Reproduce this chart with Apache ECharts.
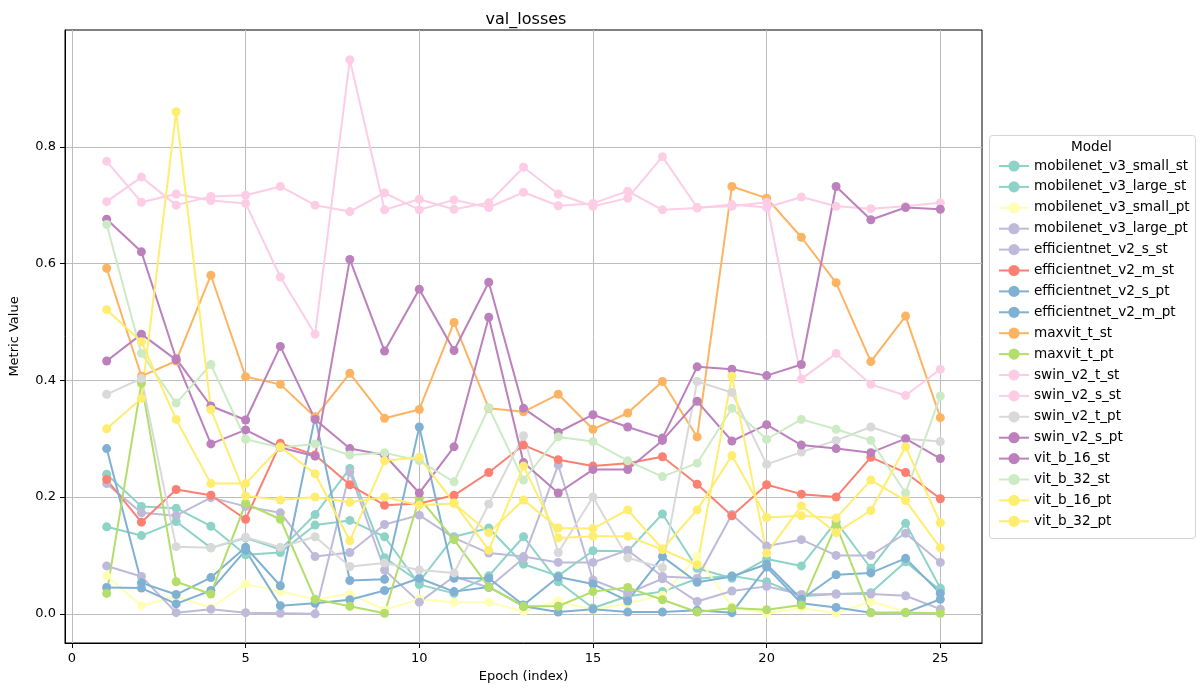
<!DOCTYPE html>
<html>
<head>
<meta charset="utf-8">
<script src="https://cdn.jsdelivr.net/npm/echarts@6/dist/echarts.min.js"></script>
<style>
html,body{margin:0;padding:0;background:#fff;}
#chart{width:1202px;height:693px;}
</style>
</head>
<body>
<div id="chart"></div>
<script>
const epochs = [1,2,3,4,5,6,7,8,9,10,11,12,13,14,15,16,17,18,19,20,21,22,23,24,25];
const xTicks = [0,5,10,15,20,25];
const yTicks = [0,0.2,0.4,0.6,0.8];

const mobilenet_v3_small_st = [0.239,0.184,0.181,0.150,0.101,0.105,0.152,0.160,0.132,0.050,0.035,0.065,0.132,0.055,0.010,0.030,0.038,0.060,0.065,0.055,0.030,0.034,0.036,0.089,0.040];
const mobilenet_v3_large_st = [0.149,0.134,0.158,0.113,0.130,0.110,0.170,0.249,0.096,0.055,0.132,0.147,0.085,0.065,0.108,0.107,0.171,0.078,0.061,0.094,0.082,0.158,0.078,0.155,0.044];
const mobilenet_v3_small_pt = [0.065,0.014,0.030,0.010,0.051,0.038,0.025,0.034,0.007,0.025,0.020,0.020,0.004,0.022,0.007,0.018,0.032,0.098,0.012,0.001,0.010,0.001,0.021,0.004,0.001];
const mobilenet_v3_large_pt = [0.082,0.064,0.002,0.008,0.002,0.001,0.000,0.243,0.075,0.020,0.064,0.045,0.095,0.255,0.058,0.035,0.060,0.021,0.039,0.047,0.033,0.034,0.034,0.031,0.008];
const efficientnet_v2_s_st = [0.223,0.173,0.168,0.199,0.184,0.173,0.098,0.105,0.153,0.169,0.130,0.104,0.098,0.088,0.088,0.109,0.064,0.061,0.170,0.116,0.127,0.100,0.100,0.138,0.088];
const efficientnet_v2_m_st = [0.230,0.157,0.213,0.203,0.162,0.292,0.272,0.221,0.186,0.189,0.203,0.242,0.289,0.264,0.253,0.258,0.269,0.222,0.168,0.221,0.205,0.200,0.268,0.242,0.197];
const efficientnet_v2_s_pt = [0.283,0.053,0.033,0.062,0.114,0.048,0.337,0.057,0.059,0.320,0.061,0.061,0.015,0.063,0.051,0.022,0.098,0.054,0.064,0.085,0.025,0.067,0.070,0.095,0.035];
const efficientnet_v2_m_pt = [0.045,0.044,0.017,0.040,0.109,0.014,0.018,0.024,0.040,0.061,0.038,0.046,0.013,0.003,0.008,0.003,0.003,0.006,0.002,0.080,0.018,0.011,0.002,0.002,0.025];
const maxvit_t_st = [0.592,0.407,0.433,0.580,0.406,0.393,0.337,0.412,0.335,0.350,0.499,0.352,0.346,0.376,0.316,0.344,0.398,0.303,0.732,0.712,0.645,0.567,0.432,0.510,0.336];
const maxvit_t_pt = [0.035,0.395,0.055,0.034,0.189,0.162,0.025,0.013,0.001,0.198,0.127,0.046,0.013,0.013,0.038,0.045,0.024,0.003,0.010,0.007,0.015,0.152,0.002,0.002,0.001];
const swin_v2_t_st = [0.775,0.705,0.719,0.708,0.703,0.577,0.479,0.949,0.692,0.710,0.693,0.704,0.765,0.719,0.698,0.712,0.783,0.696,0.698,0.705,0.402,0.446,0.393,0.374,0.419];
const swin_v2_s_st = [0.706,0.748,0.700,0.715,0.717,0.732,0.700,0.689,0.721,0.692,0.709,0.696,0.722,0.699,0.703,0.724,0.692,0.695,0.701,0.696,0.714,0.698,0.694,0.698,0.704];
const swin_v2_t_pt = [0.376,0.403,0.115,0.113,0.131,0.114,0.132,0.081,0.087,0.075,0.070,0.188,0.305,0.105,0.200,0.096,0.079,0.398,0.379,0.256,0.277,0.297,0.320,0.300,0.295];
const swin_v2_s_pt = [0.676,0.620,0.437,0.356,0.332,0.458,0.333,0.283,0.272,0.207,0.286,0.508,0.259,0.207,0.247,0.247,0.297,0.364,0.296,0.324,0.289,0.283,0.276,0.300,0.266];
const vit_b_16_st = [0.433,0.479,0.435,0.291,0.315,0.285,0.270,0.607,0.450,0.556,0.451,0.568,0.352,0.311,0.341,0.320,0.301,0.423,0.419,0.408,0.427,0.732,0.675,0.696,0.693];
const vit_b_32_st = [0.667,0.446,0.361,0.427,0.299,0.285,0.291,0.272,0.276,0.262,0.226,0.353,0.229,0.303,0.295,0.262,0.235,0.258,0.352,0.299,0.333,0.316,0.297,0.207,0.373];
const vit_b_16_pt = [0.521,0.466,0.333,0.223,0.223,0.286,0.240,0.125,0.262,0.268,0.190,0.109,0.253,0.130,0.133,0.133,0.110,0.084,0.407,0.104,0.185,0.139,0.177,0.286,0.156];
const vit_b_32_pt = [0.317,0.369,0.860,0.350,0.202,0.195,0.200,0.191,0.200,0.186,0.189,0.139,0.195,0.147,0.146,0.178,0.111,0.178,0.271,0.165,0.168,0.164,0.229,0.194,0.113];

const seriesNames = ['mobilenet_v3_small_st','mobilenet_v3_large_st','mobilenet_v3_small_pt','mobilenet_v3_large_pt','efficientnet_v2_s_st','efficientnet_v2_m_st','efficientnet_v2_s_pt','efficientnet_v2_m_pt','maxvit_t_st','maxvit_t_pt','swin_v2_t_st','swin_v2_s_st','swin_v2_t_pt','swin_v2_s_pt','vit_b_16_st','vit_b_32_st','vit_b_16_pt','vit_b_32_pt'];
const seriesValues = [mobilenet_v3_small_st,mobilenet_v3_large_st,mobilenet_v3_small_pt,mobilenet_v3_large_pt,efficientnet_v2_s_st,efficientnet_v2_m_st,efficientnet_v2_s_pt,efficientnet_v2_m_pt,maxvit_t_st,maxvit_t_pt,swin_v2_t_st,swin_v2_s_st,swin_v2_t_pt,swin_v2_s_pt,vit_b_16_st,vit_b_32_st,vit_b_16_pt,vit_b_32_pt];
const seriesColors = ['#8dd3c7','#8dd3c7','#ffffb3','#bebada','#bebada','#fb8072','#80b1d3','#80b1d3','#fdb462','#b3de69','#fccde5','#fccde5','#d9d9d9','#bc80bd','#bc80bd','#ccebc5','#ffed6f','#ffed6f'];

const FONT = 'DejaVu Sans';
const chart = echarts.init(document.getElementById('chart'), null, {renderer:'canvas'});

const series = seriesNames.map((name,i)=>({
  name: name,
  type: 'line',
  data: epochs.map((e,j)=>[e, seriesValues[i][j]]),
  symbol: 'circle',
  symbolSize: 9,
  showSymbol: true,
  lineStyle: {width: 2, color: seriesColors[i]},
  itemStyle: {color: seriesColors[i], borderWidth: 0},
  emphasis: {disabled: true},
  animation: false
}));

chart.setOption({
  animation: false,
  backgroundColor: '#fff',
  textStyle: {fontFamily: FONT},
  title: {
    text: 'val_losses',
    left: 521, top: 7, textAlign: 'center',
    textStyle: {fontFamily: FONT, fontSize: 16, fontWeight: 'normal', color: '#000'}
  },
  grid: {left: 61, right: 220, top: 30, bottom: 50, show: true, borderColor: '#000', borderWidth: 1, backgroundColor: 'transparent'},
  xAxis: {
    type: 'value', min: -0.2, max: 26.2,
    name: 'Epoch (index)', nameLocation: 'middle', nameGap: 27,
    nameTextStyle: {fontFamily: FONT, fontSize: 13, color: '#000'},
    axisLine: {show: true, onZero: false, lineStyle: {color: '#000', width: 1}},
    axisTick: {show: true, inside: false, length: 5, customValues: xTicks, lineStyle: {color: '#000'}},
    axisLabel: {customValues: xTicks, margin: 9, fontFamily: FONT, fontSize: 13, color: '#000', formatter: v => String(v)},
    splitLine: {show: true, lineStyle: {color: '#bdbdbd', width: 1}}
  },
  yAxis: {
    type: 'value', min: -0.05, max: 1.0,
    name: 'Metric Value', nameLocation: 'middle', nameGap: 44,
    nameTextStyle: {fontFamily: FONT, fontSize: 13, color: '#000'},
    axisLine: {show: true, onZero: false, lineStyle: {color: '#000', width: 1}},
    axisTick: {show: true, inside: false, length: 5, customValues: yTicks, lineStyle: {color: '#000'}},
    axisLabel: {customValues: yTicks, margin: 9, fontFamily: FONT, fontSize: 13, color: '#000', formatter: v => v.toFixed(1)},
    splitLine: {show: true, lineStyle: {color: '#bdbdbd', width: 1}}
  },
  legend: {
    orient: 'vertical', left: 993, top: 154,
    itemWidth: 30, itemHeight: 14, itemGap: 6.9,
    textStyle: {fontFamily: FONT, fontSize: 13.6, color: '#000'},
    data: seriesNames,
    selectedMode: false
  },
  graphic: [
    {type: 'rect', left: 989, top: 135, shape: {width: 206, height: 403, r: 3}, style: {fill: 'rgba(255,255,255,0.8)', stroke: '#d5d5d5', lineWidth: 1}, z: -1},
    {type: 'text', left: 1071, top: 140, style: {text: 'Model', font: '13.6px "DejaVu Sans"', fill: '#000'}}
  ],
  series: series
});
</script>
</body>
</html>
